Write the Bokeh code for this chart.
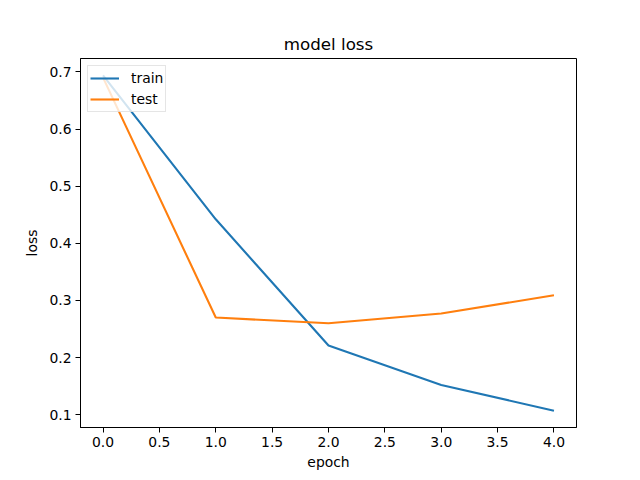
from bokeh.plotting import figure
from bokeh.models import FixedTicker, NumeralTickFormatter, Range1d, Legend, LegendItem
from bokeh.embed import file_html
from bokeh.resources import INLINE

epochs = [0, 1, 2, 3, 4]
train_loss = [0.694, 0.442, 0.221, 0.152, 0.107]
test_loss = [0.690, 0.270, 0.260, 0.277, 0.309]
x_ticks = [0.0, 0.5, 1.0, 1.5, 2.0, 2.5, 3.0, 3.5, 4.0]
y_ticks = [0.1, 0.2, 0.3, 0.4, 0.5, 0.6, 0.7]

FONT = "DejaVu Sans"

p = figure(width=632, height=472, output_backend="svg", toolbar_location=None,
           x_range=Range1d(-0.2, 4.2), y_range=Range1d(0.0776, 0.7234),
           min_border_left=80, min_border_right=56, min_border_top=58, min_border_bottom=45)
p.frame_width = 496
p.frame_height = 369

p.title.text = "model loss"
p.title.align = "center"
p.title.text_font = FONT
p.title.text_font_size = "16.7px"
p.title.text_font_style = "normal"
p.title.text_color = "black"

p.xgrid.visible = False
p.ygrid.visible = False
p.outline_line_color = "black"
p.outline_line_width = 1
p.outline_line_alpha = 1

for ax in (p.xaxis[0], p.yaxis[0]):
    ax.major_tick_out = 5
    ax.major_tick_in = 0
    ax.minor_tick_out = 0
    ax.minor_tick_in = 0
    ax.axis_line_color = "black"
    ax.major_tick_line_color = "black"
    ax.major_label_text_font = FONT
    ax.major_label_text_font_size = "13.9px"
    ax.major_label_text_color = "black"
    ax.axis_label_text_font = FONT
    ax.axis_label_text_font_size = "13.9px"
    ax.axis_label_text_font_style = "normal"
    ax.axis_label_text_color = "black"
    ax.formatter = NumeralTickFormatter(format="0.0")

p.xaxis[0].ticker = FixedTicker(ticks=x_ticks)
p.yaxis[0].ticker = FixedTicker(ticks=y_ticks)
p.xaxis[0].axis_label = "epoch"
p.yaxis[0].axis_label = "loss"
p.xaxis[0].axis_label_standoff = 4
p.yaxis[0].axis_label_standoff = 6
p.xaxis[0].major_label_standoff = 4
p.yaxis[0].major_label_standoff = 4

r1 = p.line(epochs, train_loss, line_color="#1f77b4", line_width=2.1)
r2 = p.line(epochs, test_loss, line_color="#ff7f0e", line_width=2.1)

legend = Legend(items=[LegendItem(label="train", renderers=[r1]),
                       LegendItem(label="test", renderers=[r2])],
                location="top_left")
legend.margin = 7
legend.padding = 2
legend.spacing = 1
legend.glyph_width = 29
legend.glyph_height = 20
legend.label_height = 20
legend.label_standoff = 12
legend.label_text_font = FONT
legend.label_text_font_size = "13.9px"
legend.label_text_color = "black"
legend.border_line_color = "#cccccc"
legend.border_line_width = 1
legend.background_fill_alpha = 0.8
p.add_layout(legend)

open("out.html", "w").write(file_html(p, INLINE))
